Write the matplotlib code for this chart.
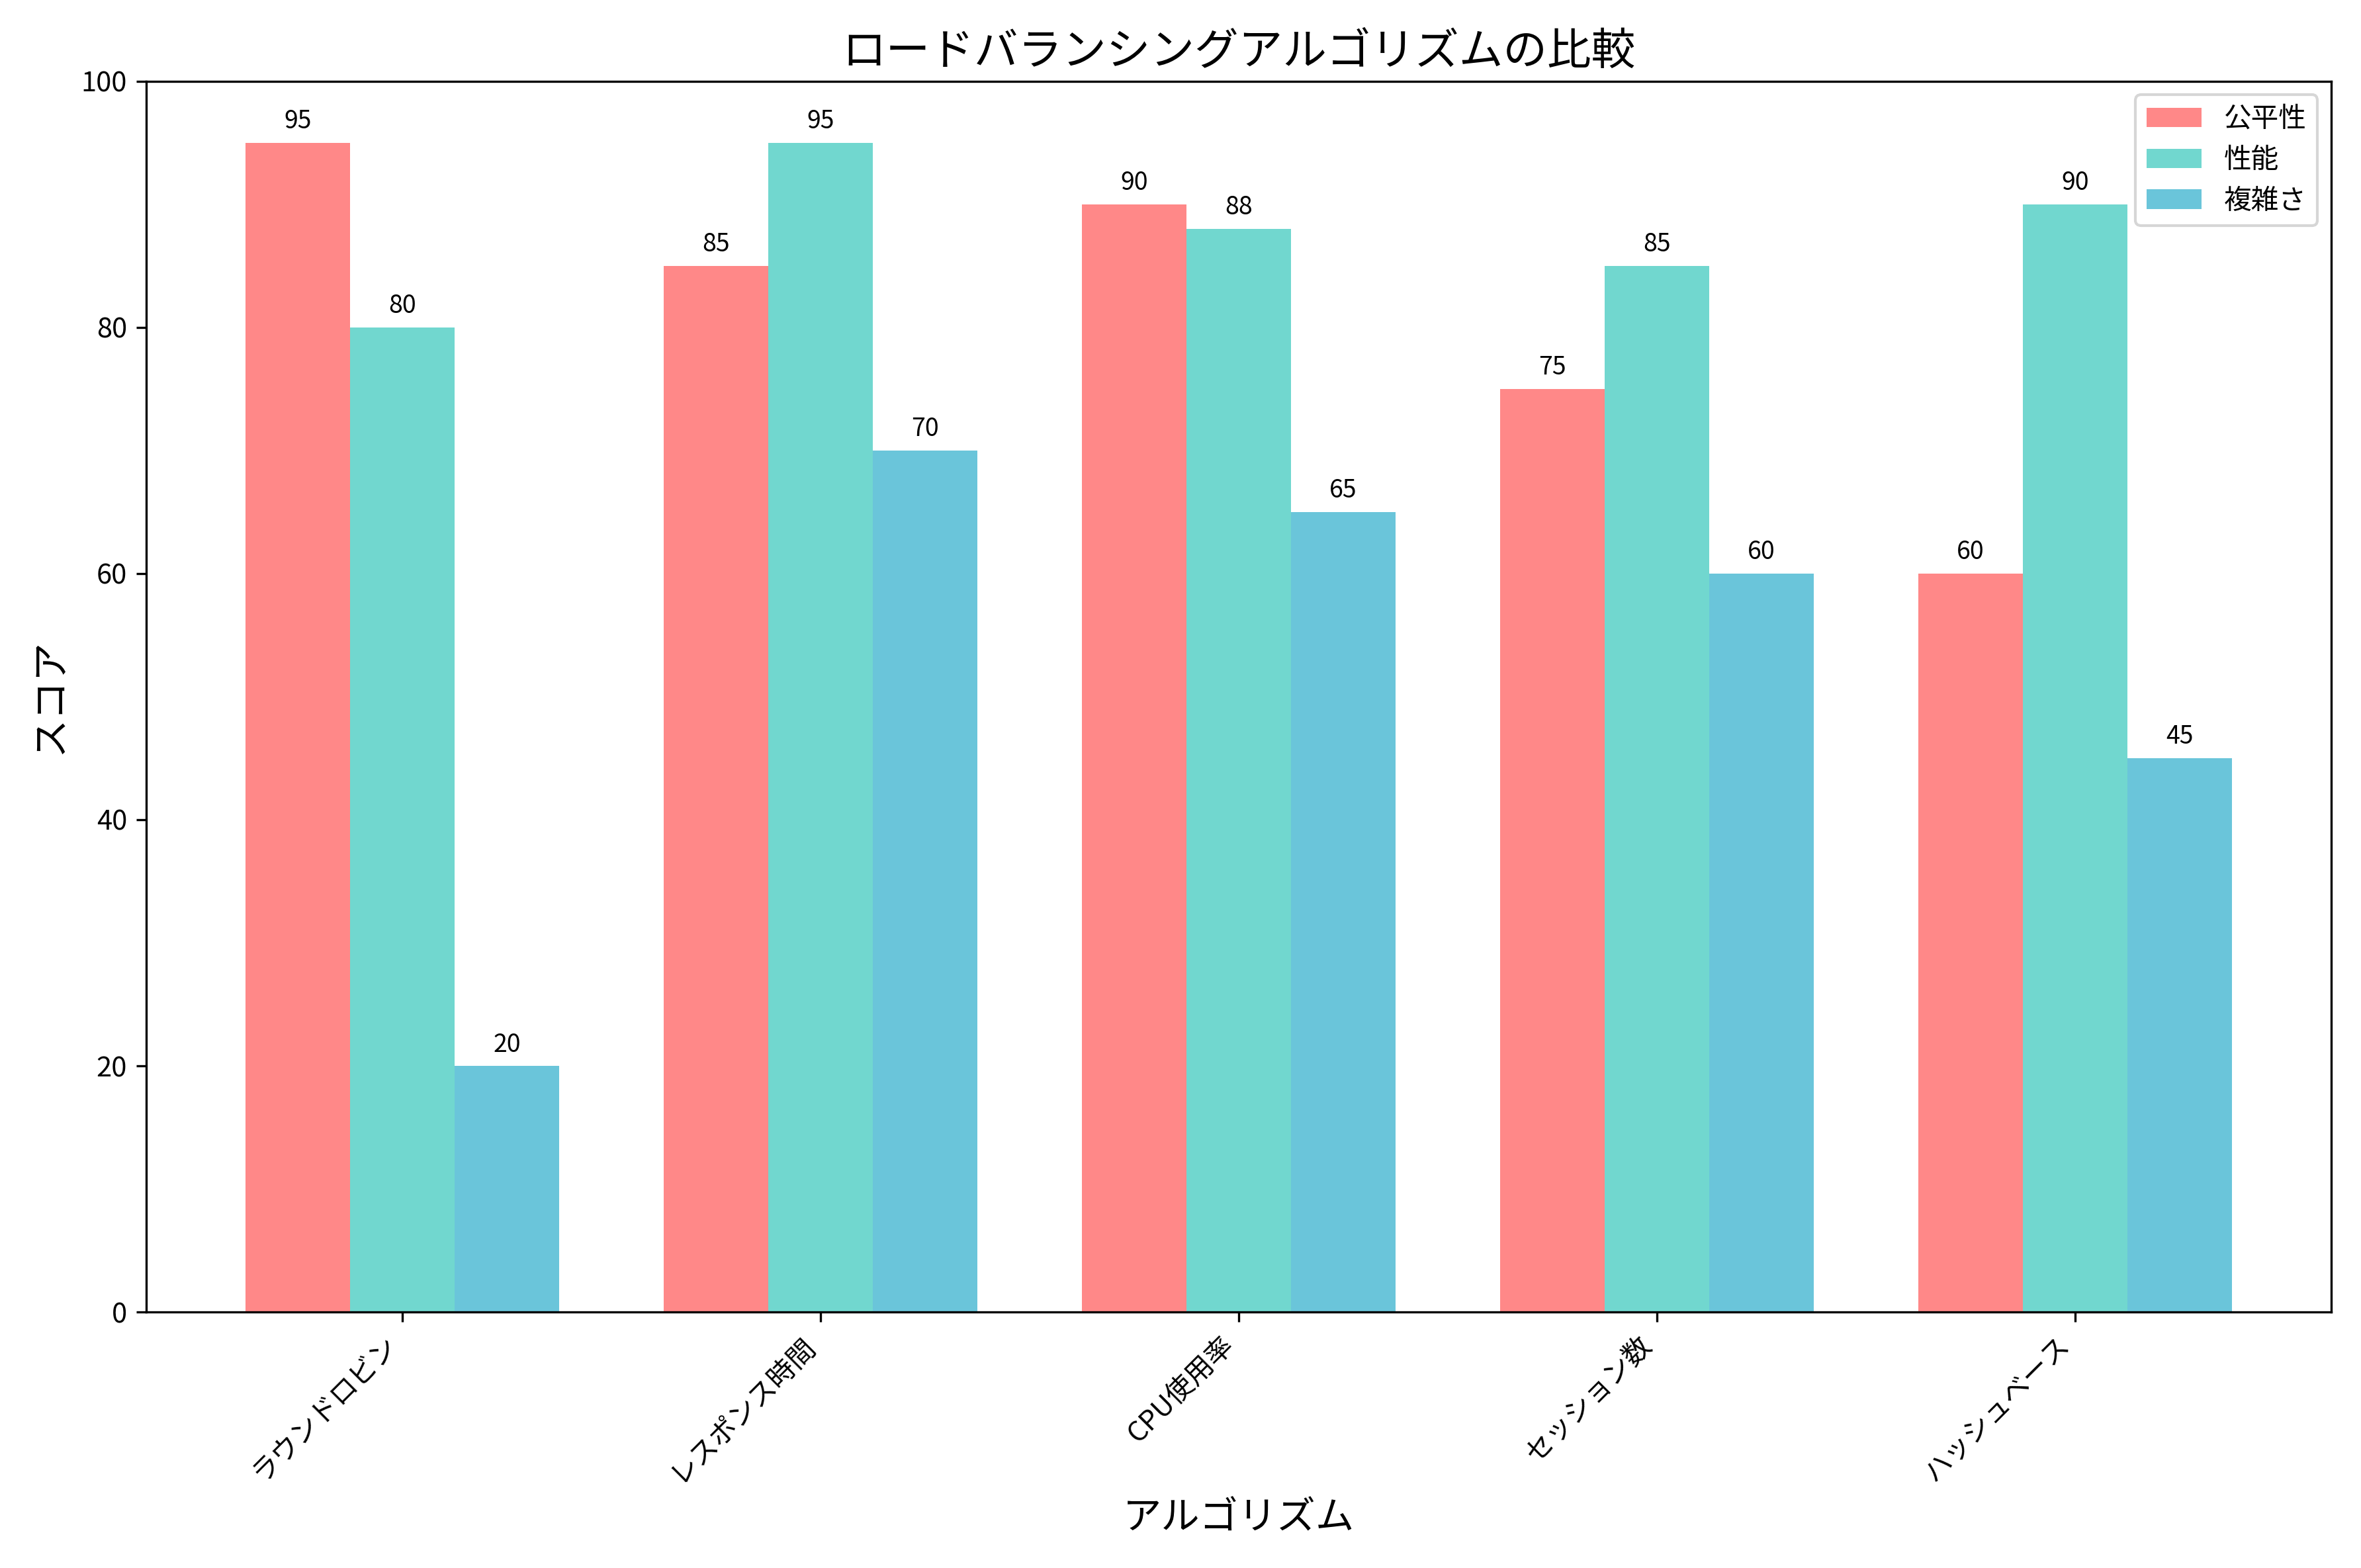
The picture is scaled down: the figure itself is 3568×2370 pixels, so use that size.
import matplotlib
matplotlib.use("Agg")
import matplotlib.pyplot as plt
import numpy as np

plt.rcParams['font.family'] = ['Noto Sans CJK JP', 'DejaVu Sans']

categories = ["ラウンドロビン", "レスポンス時間", "CPU使用率", "セッション数", "ハッシュベース"]
fairness = [95, 85, 90, 75, 60]
performance = [80, 95, 88, 85, 90]
complexity = [20, 70, 65, 60, 45]
series_names = ["公平性", "性能", "複雑さ"]
colors = ["#FF6B6B", "#4ECDC4", "#45B7D1"]

fig, ax = plt.subplots(figsize=(3568/300, 2370/300), dpi=300)
x = np.arange(len(categories))
w = 0.25
for i, (vals, name, c) in enumerate(zip([fairness, performance, complexity], series_names, colors)):
    bars = ax.bar(x + (i - 1) * w, vals, w, label=name, color=c, alpha=0.8)
    for b in bars:
        ax.annotate(f"{int(b.get_height())}", (b.get_x() + b.get_width() / 2, b.get_height()),
                    xytext=(0, 3), textcoords="offset points", ha="center", va="bottom", fontsize=9)

ax.set_title("ロードバランシングアルゴリズムの比較", fontsize=16)
ax.set_xlabel("アルゴリズム", fontsize=14)
ax.set_ylabel("スコア", fontsize=14)
ax.set_xticks(x)
ax.set_xticklabels(categories, rotation=45, ha="right")
ax.set_ylim(0, 100)
ax.legend(loc="upper right")
fig.tight_layout()
fig.savefig("out.png", dpi=300)
